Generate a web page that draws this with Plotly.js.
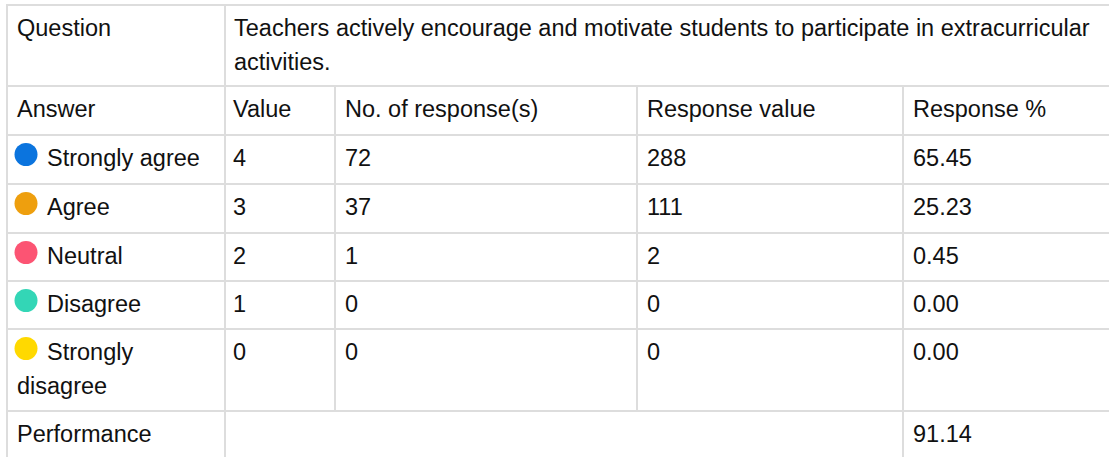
<!DOCTYPE html>
<html>
<head>
<meta charset="utf-8">
<script src="https://cdn.plot.ly/plotly-3.0.1.min.js"></script>
<style>
  html, body { margin: 0; padding: 0; background: #ffffff; }
  #chart { width: 1109px; height: 457px; }
</style>
</head>
<body>
<div id="chart"></div>
<script>
// ---------- data ----------
const questionLabel = "Question";
const questionText = "Teachers actively encourage and motivate students to participate in extracurricular activities.";
const headers = ["Answer", "Value", "No. of response(s)", "Response value", "Response %"];
const answers = ["Strongly agree", "Agree", "Neutral", "Disagree", "Strongly disagree"];
const answerColors = ["#0b74de", "#ee9f0e", "#fc5473", "#33d6b6", "#ffd900"];
const values = [4, 3, 2, 1, 0];
const responses = [72, 37, 1, 0, 0];
const responseValues = [288, 111, 2, 0, 0];
const responsePct = ["65.45", "25.23", "0.45", "0.00", "0.00"];
const performanceLabel = "Performance";
const performanceValue = "91.14";

// ---------- layout geometry ----------
const W = 1109, H = 457;
const colX = [7, 225, 335, 637, 903, 1180];       // column boundaries
const rowY = [5, 86, 135, 184, 233, 281, 329, 411, 460]; // row boundaries
const padX = 8;
const fontSize = 23.5;
const lineGap = 33.5;
const textTop = 23;
const fontFamily = "Liberation Sans, Arial, sans-serif";
const gridColor = "#dddddd";

const ctx = document.createElement("canvas").getContext("2d");
ctx.font = fontSize + "px 'Liberation Sans'";
// wrap: first line starts at x0, following lines at x1, cell right edge at xr
function wrap(text, x0, x1, xr) {
  const words = text.split(" ");
  const lines = [];
  let cur = "";
  for (const w of words) {
    const t = cur ? cur + " " + w : w;
    const startX = lines.length === 0 ? x0 : x1;
    if (cur && startX + ctx.measureText(t).width > xr) { lines.push(cur); cur = w; }
    else cur = t;
  }
  if (cur) lines.push(cur);
  return lines;
}

const annotations = [];
function cellText(text, x0, rowTop, xr, x1) {
  if (x1 === undefined) x1 = x0;
  const lines = wrap(String(text), x0, x1, xr);
  lines.forEach((ln, i) => {
    annotations.push({
      x: i === 0 ? x0 : x1, y: rowTop + textTop + i * lineGap, xref: "x", yref: "y",
      text: ln, showarrow: false, xanchor: "left", yanchor: "middle",
      font: { family: fontFamily, size: fontSize, color: "#111111" }
    });
  });
}

// question row
cellText(questionLabel, colX[0] + padX, rowY[0], colX[1] - padX);
cellText(questionText, colX[1] + padX - 1, rowY[0], 1115);
// header row
headers.forEach((h, c) => cellText(h, colX[c] + padX - (c === 1 ? 2 : 0), rowY[1], colX[c + 1] - padX));
// answer rows
const iconX = 26, textIconX = 45;
answers.forEach((a, r) => {
  const top = rowY[2 + r];
  cellText(a, textIconX, top, colX[1] - padX, colX[0] + padX);
  cellText(values[r], colX[1] + padX - 2, top, colX[2] - padX);
  cellText(responses[r], colX[2] + padX, top, colX[3] - padX);
  cellText(responseValues[r], colX[3] + padX, top, colX[4] - padX);
  cellText(responsePct[r], colX[4] + padX, top, colX[5] - padX);
});
// performance row
cellText(performanceLabel, colX[0] + padX, rowY[7], colX[1] - padX);
cellText(performanceValue, colX[4] + padX, rowY[7], colX[5] - padX);

// grid lines
const shapes = [];
function line(x0, y0, x1, y1) {
  shapes.push({ type: "line", xref: "x", yref: "y", x0, y0, x1, y1,
    line: { color: gridColor, width: 2 } });
}
for (let i = 0; i < rowY.length - 1; i++) line(colX[0] - 1, rowY[i], W + 5, rowY[i]);
line(colX[0], rowY[0], colX[0], H + 5);
line(colX[1], rowY[0], colX[1], H + 5);
line(colX[2], rowY[1], colX[2], rowY[7]);
line(colX[3], rowY[1], colX[3], rowY[7]);
line(colX[4], rowY[1], colX[4], H + 5);

// icons
const icons = {
  type: "scatter", mode: "markers",
  x: answers.map(() => iconX),
  y: answers.map((a, r) => rowY[2 + r] + 19.5),
  marker: { size: 23, color: answerColors, line: { width: 0 } },
  hoverinfo: "skip", showlegend: false, cliponaxis: false
};

Plotly.newPlot("chart", [icons], {
  width: W, height: H,
  margin: { l: 0, r: 0, t: 0, b: 0 },
  paper_bgcolor: "#ffffff", plot_bgcolor: "#ffffff",
  xaxis: { range: [0, W], visible: false, fixedrange: true },
  yaxis: { range: [H, 0], visible: false, fixedrange: true },
  shapes: shapes, annotations: annotations, showlegend: false
}, { displayModeBar: false, staticPlot: true });
</script>
</body>
</html>
